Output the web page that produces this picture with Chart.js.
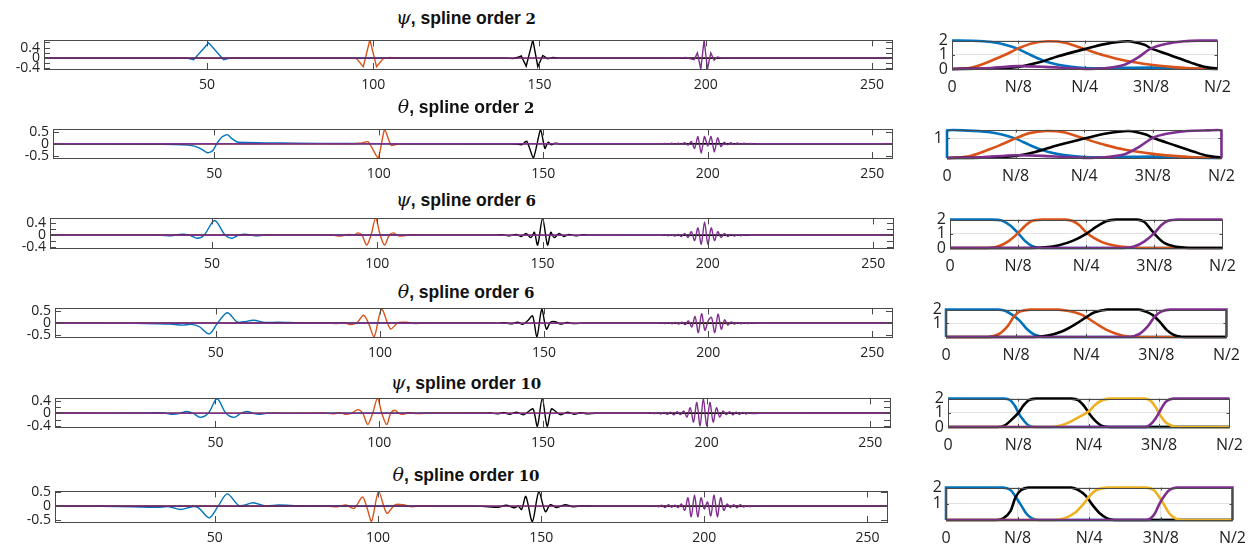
<!DOCTYPE html>
<html>
<head>
<meta charset="utf-8">
<script src="https://cdn.jsdelivr.net/npm/chart.js@4.4.1/dist/chart.umd.min.js"></script>
<style>
  html, body { margin: 0; padding: 0; background: #fff; }
  #fig { position: relative; width: 1258px; height: 551px; overflow: hidden; background: #fff; }
  #fig canvas { position: absolute; }
  .ttl { position: absolute; width: 400px; text-align: center; white-space: nowrap;
         font: bold 17.5px "Liberation Sans", Arial, sans-serif; color: #111; line-height: 20px; }
  .ttl i { font: italic 19px "DejaVu Serif", serif; }
  .ttl .n { font: bold 15px "DejaVu Serif", serif; }
</style>
</head>
<body>
<div id="fig"></div>
<script>
// wavelets psi / theta at positions 50, 100, 150, 200 and their spectra (0 .. N/2)

const BLUE = '#0072BD', ORANGE = '#D95319', YELLOW = '#EDB120', PURPLE = '#7E2F8E', BLACK = '#000000';

const TIME_TICKS = [50, 100, 150, 200, 250];
const PSI_YTICKS = [-0.4, -0.2, 0, 0.2, 0.4, 0.6];
const PSI_YLABELS = [-0.4, 0, 0.4];
const TH_YTICKS = [-0.5, 0, 0.5];
const TH_YLABELS = [-0.5, 0, 0.5];
const FREQ_TICKS = [0, 1, 2, 3, 4];
const FREQ_LABELS = ['0', 'N/8', 'N/4', '3N/8', 'N/2'];

// ---- psi, spline order 2
const PSI2_W50 = [[1,0],[44,0],[46,-0.06],[50.5,0.59],[55,-0.06],[57,0],[256,0]];
const PSI2_W100 = [[1,0],[93,0],[95,-0.02],[97,-0.33],[99,0.7],[101,-0.33],[103,-0.02],[105,0.02],[107,0],[256,0]];
const PSI2_W150 = [[1,0],[140,0],[142,-0.02],[143.5,0.03],[144.5,0.08],[146,-0.31],[148,0.7],[149.5,-0.33],[151,0.1],[152.5,-0.03],[154,0.02],[156,0],[256,0]];
const PSI2_W200 = [[1,0],[192,0],[194,0.02],[195.5,-0.03],[196.5,-0.06],[197.5,0.2],[198.5,-0.43],[199.5,0.7],[200.5,-0.43],[201.5,0.2],[202.5,-0.08],[203.5,0.04],[205,0],[256,0]];
const PSI2_S1 = [[0,2],[0.3,1.99],[0.6,1.9],[0.8,1.7],[1,1.4],[1.2,0.95],[1.4,0.55],[1.6,0.3],[1.8,0.15],[2,0.07],[2.3,0.05],[2.6,0.08],[3,0.1],[3.3,0.08],[3.6,0.03],[4,0]];
const PSI2_S2 = [[0,0],[0.3,0.1],[0.6,0.6],[0.8,1.0],[1,1.45],[1.2,1.8],[1.45,1.95],[1.7,1.85],[2,1.4],[2.3,0.95],[2.6,0.6],[3,0.3],[3.3,0.15],[3.6,0.05],[4,0]];
const PSI2_S3 = [[0,0],[0.5,0.03],[1,0.15],[1.3,0.45],[1.6,0.9],[2,1.4],[2.3,1.75],[2.65,1.95],[2.9,1.7],[3,1.45],[3.3,0.95],[3.6,0.45],[3.8,0.15],[4,0.03]];
const PSI2_S4 = [[0,0],[0.5,0.05],[1,0.2],[1.4,0.15],[2,0],[2.3,0.05],[2.6,0.3],[2.8,0.8],[3,1.45],[3.2,1.75],[3.5,1.95],[3.8,2],[4,2]];

// ---- theta, spline order 2
const TH2_W50 = [[1,0],[10,-0.005],[20,-0.01],[30,-0.02],[38,-0.035],[42,-0.06],[44,-0.1],[46,-0.22],[48,-0.38],[49.5,-0.3],[51,0.05],[52.5,0.3],[54,0.38],[55.5,0.2],[57,0.07],[60,0.05],[66,0.035],[75,0.02],[90,0.01],[110,0],[256,0]];
const TH2_W100 = [[1,0],[92,0],[94.5,0.02],[96.8,0.08],[99.8,-0.6],[101.8,0.6],[103.8,-0.07],[106,0],[256,0]];
const TH2_W150 = [[1,0],[140,0],[142,-0.02],[143.5,-0.04],[145,0.1],[147,-0.6],[149.2,0.6],[150.5,-0.2],[151.5,0.07],[152.5,-0.05],[153.5,0.02],[155,0],[256,0]];
const TH2_W200 = [[1,0],[186,0],[187,0.01],[188,-0.015],[189,0.02],[190,-0.02],[191,0.025],[192,-0.03],[193,0.04],[194,-0.06],[195,0.1],[196,-0.2],[197,0.3],[198,-0.4],[199,0.3],[200,-0.1],[201,0.3],[202,-0.35],[203,0.25],[204,-0.12],[205,0.06],[206,-0.05],[207,0.04],[208,-0.035],[209,0.03],[210,-0.025],[211,0.02],[212,-0.015],[213,0.01],[214,-0.01],[216,0],[256,0]];
const TH2_S1 = [[0,0],[0,1.41],[0.3,1.4],[0.6,1.33],[0.8,1.2],[1,0.99],[1.2,0.67],[1.4,0.39],[1.6,0.21],[1.8,0.11],[2,0.05],[2.3,0.04],[2.6,0.06],[3,0.07],[3.3,0.06],[3.6,0.02],[4,0]];
const TH2_S2 = [[0,0],[0.3,0.07],[0.6,0.42],[0.8,0.7],[1,1.0],[1.2,1.27],[1.45,1.38],[1.7,1.31],[2,0.99],[2.3,0.67],[2.6,0.42],[3,0.21],[3.3,0.11],[3.6,0.04],[4,0]];
const TH2_S3 = [[0,0],[0.5,0.02],[1,0.11],[1.3,0.32],[1.6,0.64],[2,0.99],[2.3,1.24],[2.65,1.38],[2.9,1.2],[3,1.03],[3.3,0.67],[3.6,0.32],[3.8,0.11],[4,0.02]];
const TH2_S4 = [[0,0],[0.5,0.04],[1,0.14],[1.4,0.11],[2,0],[2.3,0.04],[2.6,0.21],[2.8,0.57],[3,1.03],[3.2,1.24],[3.5,1.38],[3.8,1.41],[4,1.41],[4,0]];

// ---- psi, spline order 6
const PSI6_W50 = [[1,0],[30,0],[33,0.01],[37,-0.02],[41,0.04],[43.3,0],[45.5,-0.1],[47.6,0],[50.8,0.5],[54,0],[56,-0.1],[58,0],[60,0.04],[62,0],[64,-0.02],[67,0.01],[72,0],[256,0]];
const PSI6_W100 = [[1,0],[84,0],[86.5,0.01],[88.5,-0.03],[91.5,0.03],[93,0],[94.2,0.08],[95.4,0],[96.8,-0.33],[98.1,0],[99.5,0.57],[100.9,0],[102.2,-0.33],[103.6,0],[104.8,0.08],[106,0],[107.5,-0.03],[110.5,0.02],[113,0],[256,0]];
const PSI6_W150 = [[1,0],[136,0],[138,0.015],[140,-0.02],[142,0.03],[143.5,-0.04],[145,0.06],[146.5,-0.08],[147.5,0.1],[148.5,-0.33],[150,0.57],[151.5,-0.33],[152.5,0.1],[153.5,-0.08],[155,0.06],[156.5,-0.04],[158,0.03],[160,-0.02],[162,0.015],[164,0],[256,0]];
const PSI6_W200 = [[1,0],[186,0],[187,0.01],[188,-0.015],[189,0.02],[190,-0.025],[191,0.03],[192,-0.04],[193,0.06],[194,-0.08],[195,0.12],[196,-0.18],[197,0.25],[198,-0.3],[199,0.45],[200,-0.3],[201,0.25],[202,-0.18],[203,0.12],[204,-0.08],[205,0.06],[206,-0.04],[207,0.03],[208,-0.025],[209,0.02],[210,-0.015],[211,0.01],[213,0],[256,0]];
const PSI6_S1 = [[0,2],[0.6,2],[0.75,1.95],[0.88,1.6],[1,1.05],[1.1,0.5],[1.2,0.15],[1.3,0.02],[1.45,0],[4,0]];
const PSI6_S2 = [[0,0],[0.55,0],[0.7,0.1],[0.85,0.45],[1,1.05],[1.1,1.55],[1.2,1.9],[1.35,2],[1.7,2],[1.8,1.9],[1.9,1.6],[2,1.1],[2.15,0.6],[2.3,0.3],[2.5,0.1],[2.7,0.02],[2.9,0],[4,0]];
const PSI6_S3 = [[0,0],[1.2,0],[1.4,0.05],[1.6,0.2],[1.8,0.5],[2,1.0],[2.15,1.5],[2.3,1.9],[2.45,2],[2.75,2],[2.85,1.85],[2.95,1.3],[3.05,0.75],[3.15,0.35],[3.3,0.1],[3.45,0.02],[3.6,0],[4,0]];
const PSI6_S4 = [[0,0],[2.55,0],[2.7,0.1],[2.85,0.45],[3,1.05],[3.1,1.6],[3.2,1.92],[3.35,2],[4,2]];

// ---- theta, spline order 6
const TH6_W50 = [[1,0],[15,-0.005],[25,-0.01],[32,-0.025],[36,-0.04],[40,-0.08],[42.5,-0.05],[45,-0.15],[48,-0.45],[50.5,0],[53.5,0.44],[56.5,0.05],[58.5,0.06],[61.5,0.12],[65,0.03],[69,0.04],[75,0.015],[85,0.005],[100,0],[256,0]];
const TH6_W100 = [[1,0],[84,0],[87,-0.02],[89,0.02],[91,-0.06],[93,0.02],[95,0.33],[96.5,0],[98.2,-0.58],[100.5,0.58],[103.2,-0.24],[105.5,0.02],[108,0.04],[110.5,-0.02],[113,0],[256,0]];
const TH6_W150 = [[1,0],[134,0],[136,-0.01],[138,0.02],[140,-0.03],[142,0.04],[143.5,-0.05],[145,0.1],[146.5,0.3],[147.8,-0.58],[149.3,0.58],[150.7,-0.25],[152,0.05],[153.5,0.06],[155,-0.04],[157,0.03],[159,-0.02],[162,0],[256,0]];
const TH6_W200 = [[1,0],[185,0],[186,0.01],[187,-0.015],[188,0.02],[189,-0.025],[190,0.03],[191,-0.035],[192,0.04],[193,-0.06],[194,0.1],[195,-0.16],[196,0.28],[197,-0.4],[198,0.4],[199,-0.3],[200,0.1],[201,0.25],[202,-0.4],[203,0.38],[204,-0.25],[205,0.14],[206,-0.08],[207,0.05],[208,-0.04],[209,0.03],[210,-0.025],[211,0.02],[212,-0.015],[213,0.01],[215,0],[256,0]];
const TH6_S1 = [[0,0],[0,2],[0.75,2],[0.85,1.9],[0.95,1.6],[1.05,1.2],[1.15,0.6],[1.25,0.2],[1.35,0.03],[1.5,0],[4,0]];
const TH6_S2 = [[0,0],[0.6,0],[0.75,0.2],[0.88,0.8],[0.97,1.5],[1.05,1.85],[1.2,2],[1.6,2],[1.75,1.9],[1.9,1.7],[2,1.45],[2.15,0.95],[2.3,0.5],[2.45,0.2],[2.6,0.03],[2.75,0],[4,0]];
const TH6_S3 = [[0,0],[1.25,0],[1.45,0.1],[1.65,0.4],[1.85,0.95],[2,1.45],[2.12,1.8],[2.3,2],[2.75,2],[2.85,1.85],[2.95,1.6],[3.05,1.1],[3.15,0.5],[3.25,0.15],[3.35,0.02],[3.5,0],[4,0]];
const TH6_S4 = [[0,0],[2.6,0],[2.75,0.2],[2.88,0.8],[2.98,1.5],[3.07,1.85],[3.2,2],[4,2],[4,0]];

// ---- psi, spline order 10
const PSI10_W50 = [[1,0],[26,0],[29,0.01],[33,0.02],[35,0],[37,-0.03],[39.2,0],[41.2,0.06],[43.2,0],[45.3,-0.13],[47.8,0],[50.5,0.47],[53.2,0],[55.7,-0.13],[57.7,0],[59.7,0.06],[61.5,0],[63.3,-0.03],[65.5,0],[67.5,0.015],[72,0],[256,0]];
const PSI10_W100 = [[1,0],[80,0],[83,0.01],[86,-0.015],[88,0.02],[89.5,-0.03],[91.5,0],[93.5,0.12],[95,0],[96.5,-0.36],[98,0],[99.5,0.48],[100.8,0],[102.3,-0.36],[103.5,0],[104.8,0.1],[106,0],[107.3,-0.03],[109,0.02],[111,-0.01],[114,0],[256,0]];
const PSI10_W150 = [[1,0],[132,0],[134,0.01],[136,-0.015],[138,0.02],[140,-0.03],[142,0.04],[144,-0.05],[145.5,0.05],[147,0.14],[148.3,-0.42],[149.8,0.48],[151.3,-0.42],[152.6,0.14],[154,0.05],[155.5,-0.05],[157.5,0.04],[159.5,-0.03],[161.5,0.02],[163.5,-0.015],[166,0],[256,0]];
const PSI10_W200 = [[1,0],[182,0],[183,0.01],[184,-0.01],[185,0.015],[186,-0.02],[187,0.025],[188,-0.03],[189,0.04],[190,-0.05],[191,0.05],[192,-0.04],[193,0.08],[194,-0.12],[195,0.18],[196,-0.28],[197,0.35],[198,-0.4],[199,0.48],[200,-0.4],[201,0.35],[202,-0.28],[203,0.18],[204,-0.12],[205,0.08],[206,-0.04],[207,0.05],[208,-0.05],[209,0.04],[210,-0.03],[211,0.025],[212,-0.02],[213,0.015],[214,-0.01],[216,0],[256,0]];
const PSI10_S1 = [[0,2],[0.8,2],[0.88,1.9],[0.95,1.5],[1,1.0],[1.07,0.5],[1.15,0.1],[1.25,0],[4,0]];
const PSI10_S2 = [[0,0],[0.7,0],[0.8,0.1],[0.9,0.5],[1,1.0],[1.07,1.5],[1.15,1.9],[1.25,2],[1.75,2],[1.85,1.9],[1.93,1.5],[2,1.0],[2.08,0.5],[2.18,0.1],[2.3,0],[4,0]];
const PSI10_S3 = [[0,0],[1.45,0],[1.6,0.1],[1.75,0.4],[1.9,0.8],[2,1.1],[2.1,1.6],[2.2,1.9],[2.3,2],[2.8,2],[2.88,1.85],[2.95,1.4],[3.02,0.8],[3.1,0.3],[3.2,0.05],[3.3,0],[4,0]];
const PSI10_S4 = [[0,0],[2.8,0],[2.88,0.2],[2.95,0.6],[3.02,1.2],[3.1,1.8],[3.2,2],[4,2]];

// ---- theta, spline order 10
const TH10_W50 = [[1,0],[15,-0.005],[25,-0.02],[32.5,-0.04],[36,-0.02],[39.5,-0.12],[43,-0.02],[45,-0.06],[48.3,-0.42],[51,0],[53.8,0.44],[57.5,0.02],[61.7,0.12],[65.5,0.01],[69.5,0.04],[75.5,0.02],[85.5,0.005],[100,0],[256,0]];
const TH10_W100 = [[1,0],[82,0],[85,-0.01],[87.7,-0.02],[90.2,0.04],[92.7,-0.08],[95.2,0.33],[96.5,0],[98,-0.55],[100.2,0.52],[102.7,-0.25],[105.2,0.05],[107.7,0.05],[110.2,-0.02],[113,0.01],[116,0],[256,0]];
const TH10_W150 = [[1,0],[130,0],[133.8,-0.02],[136.8,-0.04],[139.3,0.03],[141.8,-0.06],[143,0],[144,-0.12],[145.3,0.35],[147.3,-0.55],[149.3,0.52],[151.3,-0.2],[152.8,0.05],[154.8,-0.05],[157.3,0.05],[159.8,-0.02],[162.5,0.01],[166,0],[256,0]];
const TH10_W200 = [[1,0],[184,0],[185,0.01],[186,-0.02],[187,0.03],[188,-0.05],[189,0.05],[190,-0.04],[191,0.03],[192,-0.05],[193,0.08],[194,-0.15],[195,0.3],[196,-0.38],[197,0.4],[198,-0.38],[199,0.3],[200,-0.1],[201,0.15],[202,-0.35],[203,0.4],[204,-0.38],[205,0.3],[206,-0.15],[207,0.08],[208,-0.05],[209,0.05],[210,-0.06],[211,0.05],[212,-0.03],[213,0.02],[214,-0.02],[215,0.01],[217,0],[256,0]];
const TH10_S1 = [[0,0],[0,2],[0.8,2],[0.9,1.85],[0.97,1.45],[1.05,0.9],[1.12,0.4],[1.2,0.1],[1.3,0],[4,0]];
const TH10_S2 = [[0,0],[0.7,0],[0.8,0.1],[0.9,0.55],[0.97,1.4],[1.05,1.85],[1.15,2],[1.75,2],[1.85,1.85],[1.95,1.5],[2.05,0.9],[2.15,0.4],[2.25,0.1],[2.35,0],[4,0]];
const TH10_S3 = [[0,0],[1.5,0],[1.65,0.1],[1.8,0.45],[1.92,1.0],[2,1.45],[2.1,1.85],[2.25,2],[2.8,2],[2.9,1.85],[2.98,1.4],[3.05,0.9],[3.12,0.4],[3.2,0.1],[3.3,0],[4,0]];
const TH10_S4 = [[0,0],[2.8,0],[2.9,0.3],[2.98,1.0],[3.05,1.5],[3.12,1.85],[3.22,2],[4,2],[4,0]];

// ---- layout of the six rows: plot boxes [left, top, right, bottom] in page pixels
const ROWS = [
  { sym: 'ψ', order: 2, titleY: 16, left: [44, 40, 892, 69], right: [952, 39, 1218, 69],
    ymin: -0.42, ymax: 0.68, yt: PSI_YTICKS, yl: PSI_YLABELS, tension: 0,
    waves: [PSI2_W50, PSI2_W100, PSI2_W150, PSI2_W200],
    spec: [PSI2_S1, PSI2_S2, PSI2_S3, PSI2_S4], specColors: [BLUE, ORANGE, BLACK, PURPLE],
    smax: 2, st: [0, 1, 2] },
  { sym: 'θ', order: 2, titleY: 105, left: [53, 129, 892, 158], right: [947, 128, 1222, 158],
    ymin: -0.6, ymax: 0.6, yt: TH_YTICKS, yl: TH_YLABELS, tension: 0.2,
    waves: [TH2_W50, TH2_W100, TH2_W150, TH2_W200],
    spec: [TH2_S1, TH2_S2, TH2_S3, TH2_S4], specColors: [BLUE, ORANGE, BLACK, PURPLE],
    smax: 1.45, st: [1] },
  { sym: 'ψ', order: 6, titleY: 198, left: [50, 218, 893, 248], right: [950, 218, 1223, 248],
    ymin: -0.43, ymax: 0.57, yt: PSI_YTICKS, yl: PSI_YLABELS, tension: 0.3,
    waves: [PSI6_W50, PSI6_W100, PSI6_W150, PSI6_W200],
    spec: [PSI6_S1, PSI6_S2, PSI6_S3, PSI6_S4], specColors: [BLUE, ORANGE, BLACK, PURPLE],
    smax: 2, st: [0, 1, 2] },
  { sym: 'θ', order: 6, titleY: 290, left: [55, 308, 892, 337], right: [946, 308, 1227, 337],
    ymin: -0.58, ymax: 0.62, yt: TH_YTICKS, yl: TH_YLABELS, tension: 0.3,
    waves: [TH6_W50, TH6_W100, TH6_W150, TH6_W200],
    spec: [TH6_S1, TH6_S2, TH6_S3, TH6_S4], specColors: [BLUE, ORANGE, BLACK, PURPLE],
    smax: 2, st: [1, 2] },
  { sym: 'ψ', order: 10, titleY: 381, left: [55, 398, 890, 427], right: [948, 397, 1230, 427],
    ymin: -0.44, ymax: 0.48, yt: PSI_YTICKS, yl: PSI_YLABELS, tension: 0.3,
    waves: [PSI10_W50, PSI10_W100, PSI10_W150, PSI10_W200],
    spec: [PSI10_S1, PSI10_S2, PSI10_S3, PSI10_S4], specColors: [BLUE, BLACK, YELLOW, PURPLE],
    smax: 2, st: [0, 1, 2] },
  { sym: 'θ', order: 10, titleY: 473, left: [55, 491, 887, 522], right: [946, 486, 1233, 520],
    ymin: -0.57, ymax: 0.53, yt: TH_YTICKS, yl: TH_YLABELS, tension: 0.3,
    waves: [TH10_W50, TH10_W100, TH10_W150, TH10_W200],
    spec: [TH10_S1, TH10_S2, TH10_S3, TH10_S4], specColors: [BLUE, BLACK, YELLOW, PURPLE],
    smax: 2, st: [1, 2] },
];
const WAVE_COLORS = [BLUE, ORANGE, BLACK, PURPLE];

Chart.defaults.font.family = '"Open Sans", "DejaVu Sans", sans-serif';
Chart.defaults.color = '#222';

// MATLAB-like box with inward tick marks on all four sides
const boxTicks = {
  id: 'boxTicks',
  afterDraw(chart, args, o) {
    const { ctx, chartArea: a, scales: { x, y } } = chart;
    ctx.save();
    ctx.lineWidth = 1;
    ctx.strokeStyle = o.color;
    ctx.beginPath();
    x.ticks.forEach((t) => {
      const px = Math.round(x.getPixelForValue(t.value)) + 0.5;
      ctx.moveTo(px, a.bottom); ctx.lineTo(px, a.bottom - o.len);
      ctx.moveTo(px, a.top); ctx.lineTo(px, a.top + o.len);
    });
    y.ticks.forEach((t) => {
      const py = Math.round(y.getPixelForValue(t.value)) + 0.5;
      ctx.moveTo(a.left, py); ctx.lineTo(a.left + o.len, py);
      ctx.moveTo(a.right, py); ctx.lineTo(a.right - o.len, py);
    });
    ctx.stroke();
    ctx.strokeRect(Math.round(a.left) + 0.5, Math.round(a.top) + 0.5, Math.round(a.width), Math.round(a.height));
    ctx.restore();
  },
};

const fig = document.getElementById('fig');

function panel(box, cfg) {
  const padT = 12;
  const c = document.createElement('canvas');
  c.width = cfg.axisW + (box[2] - box[0]) + cfg.padR;
  c.height = padT + (box[3] - box[1]) + cfg.axisH;
  c.style.left = (box[0] - cfg.axisW) + 'px';
  c.style.top = (box[1] - padT) + 'px';
  fig.appendChild(c);
  new Chart(c, {
    type: 'line',
    data: {
      // later series sit on top, as in the original
      datasets: cfg.series.map((s, i) => ({
        data: s.map((p) => ({ x: p[0], y: p[1] })),
        borderColor: cfg.colors[i], borderWidth: cfg.lw, order: -i,
        pointRadius: 0, fill: false, tension: cfg.tension, clip: cfg.clip,
      })),
    },
    options: {
      responsive: false, animation: false, events: [],
      layout: { padding: { top: padT, right: cfg.padR, left: 0, bottom: 0 } },
      plugins: { legend: { display: false }, tooltip: { enabled: false },
        boxTicks: { len: cfg.tickLen, color: '#4a4a4a' } },
      scales: {
        x: {
          type: 'linear', min: cfg.xmin, max: cfg.xmax,
          afterBuildTicks: (s) => { s.ticks = cfg.xt.map((v) => ({ value: v })); },
          afterFit: (s) => { s.height = cfg.axisH; },
          grid: { display: cfg.grid, color: '#e2e2e2', drawTicks: false },
          border: { display: false },
          ticks: { autoSkip: false, maxRotation: 0, padding: cfg.xPad, font: { size: cfg.fs },
            callback: cfg.xLabel },
        },
        y: {
          type: 'linear', min: cfg.ymin, max: cfg.ymax,
          afterBuildTicks: (s) => { s.ticks = cfg.yt.filter((v) => v >= cfg.ymin && v <= cfg.ymax).map((v) => ({ value: v })); },
          afterFit: (s) => { s.width = cfg.axisW; },
          grid: { display: cfg.grid, color: '#e2e2e2', drawTicks: false },
          border: { display: false },
          ticks: { autoSkip: false, padding: 4, font: { size: cfg.fs },
            callback: (v) => (cfg.yl.some((l) => Math.abs(l - v) < 1e-9) ? String(v) : '') },
        },
      },
    },
    plugins: [boxTicks],
  });
}

ROWS.forEach((r) => {
  const t = document.createElement('div');
  t.className = 'ttl';
  t.style.left = (466 - 200) + 'px';
  t.style.top = (r.titleY - 10) + 'px';
  t.innerHTML = '<i>' + r.sym + '</i>, spline order <span class="n">' + r.order + '</span>';
  fig.appendChild(t);

  panel(r.left, {
    series: r.waves, colors: WAVE_COLORS, lw: 1.4, tension: r.tension, clip: 0,
    xmin: 1, xmax: 256, xt: TIME_TICKS, xLabel: (v) => String(v),
    ymin: r.ymin, ymax: r.ymax, yt: r.yt, yl: r.yl,
    axisW: r.left[0], axisH: 30, padR: 14, xPad: 8, fs: 14, grid: false, tickLen: 6,
  });

  panel(r.right, {
    series: r.spec, colors: r.specColors, lw: 2.6, tension: 0.3, clip: 3,
    xmin: 0, xmax: 4, xt: FREQ_TICKS, xLabel: (v) => FREQ_LABELS[FREQ_TICKS.indexOf(v)],
    ymin: 0, ymax: r.smax, yt: r.st, yl: r.st,
    axisW: 30, axisH: 34, padR: 22, xPad: 9, fs: 16, grid: true, tickLen: 3,
  });
});
</script>
</body>
</html>
